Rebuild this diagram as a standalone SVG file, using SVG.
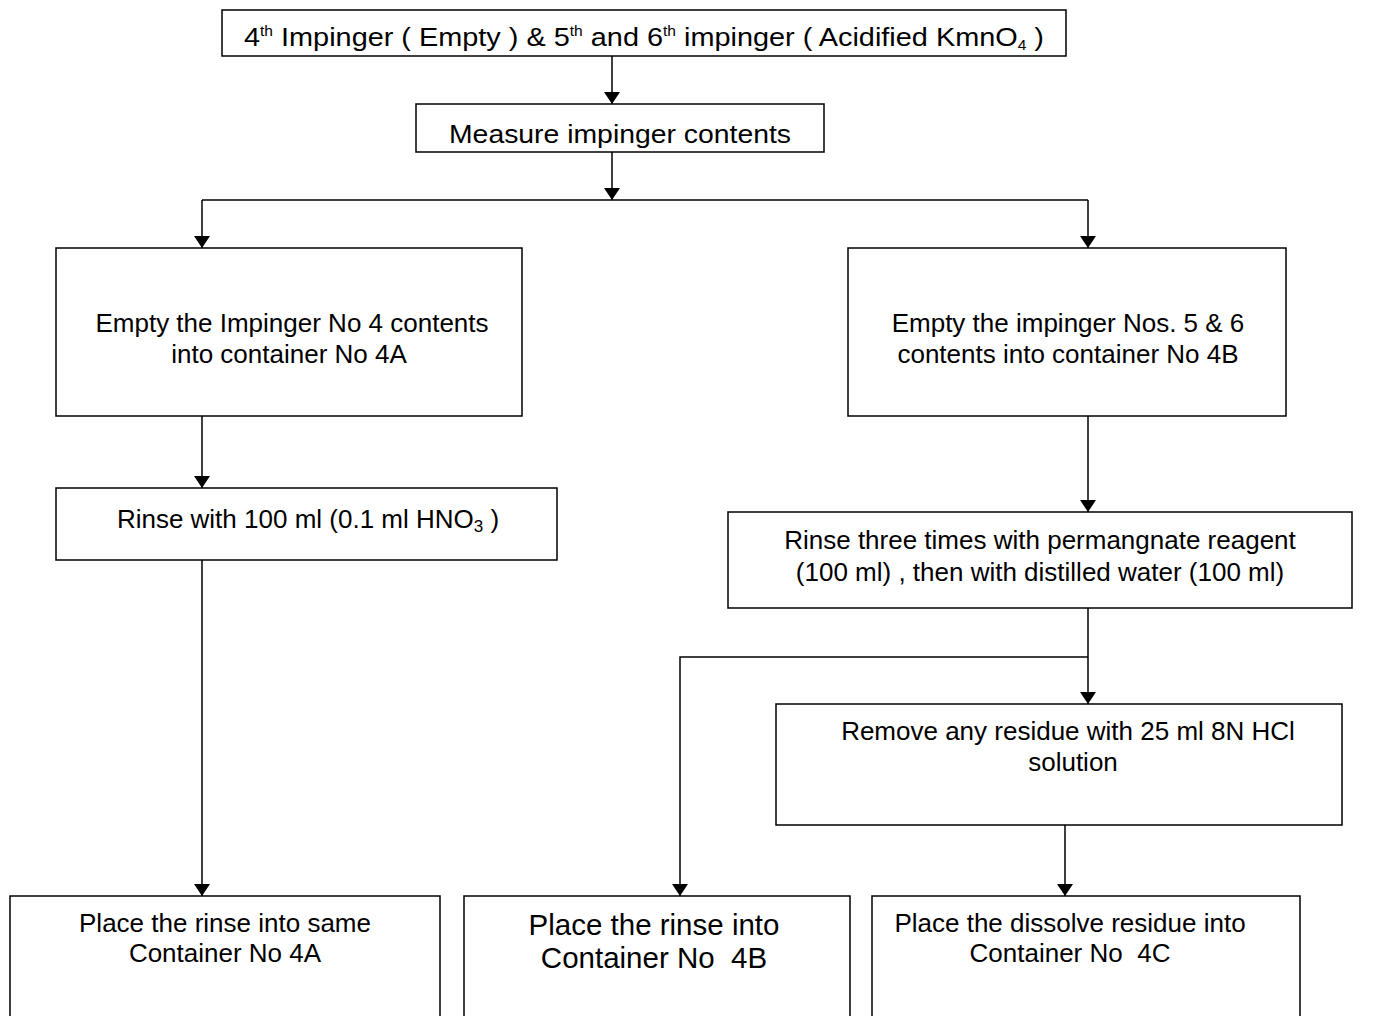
<svg xmlns="http://www.w3.org/2000/svg" width="1376" height="1016" viewBox="0 0 1376 1016">
<style>
rect{fill:#fff;stroke:#000;stroke-width:1.5}
text{font-family:"Liberation Sans",Arial,sans-serif;font-size:26px;fill:#000;text-anchor:middle}
.c line,.c polyline{stroke:#000;stroke-width:1.5;fill:none}
.big{font-size:29.5px}
.sup{font-size:14px}
</style>
<defs>
<marker id="ah" viewBox="0 0 12 16" refX="12" refY="8" markerWidth="12" markerHeight="16" markerUnits="userSpaceOnUse" orient="auto"><path d="M0,0 L12,8 L0,16 Z" fill="#000"/></marker>
</defs>
<g class="c">
<line x1="612" y1="56" x2="612" y2="104" marker-end="url(#ah)"/>
<line x1="612" y1="152" x2="612" y2="200" marker-end="url(#ah)"/>
<polyline points="202,200 1088,200"/>
<line x1="202" y1="200" x2="202" y2="248" marker-end="url(#ah)"/>
<line x1="1088" y1="200" x2="1088" y2="248" marker-end="url(#ah)"/>
<line x1="202" y1="416" x2="202" y2="488" marker-end="url(#ah)"/>
<line x1="1088" y1="416" x2="1088" y2="512" marker-end="url(#ah)"/>
<line x1="1088" y1="608" x2="1088" y2="704" marker-end="url(#ah)"/>
<polyline points="1088,657 680,657 680,896" marker-end="url(#ah)"/>
<line x1="202" y1="560" x2="202" y2="896" marker-end="url(#ah)"/>
<line x1="1065" y1="825" x2="1065" y2="896" marker-end="url(#ah)"/>
</g>
<g id="n1"><rect x="222" y="10" width="844" height="46"/>
<text x="644" y="46" font-size="24" textLength="800" lengthAdjust="spacingAndGlyphs">4<tspan class="sup" dy="-10">th</tspan><tspan dy="10"> Impinger ( Empty ) &amp; 5</tspan><tspan class="sup" dy="-10">th</tspan><tspan dy="10"> and 6</tspan><tspan class="sup" dy="-10">th</tspan><tspan dy="10"> impinger ( Acidified KmnO</tspan><tspan class="sup" dy="4" font-size="16">4</tspan><tspan dy="-4"> )</tspan></text></g>
<g id="n2"><rect x="416" y="104" width="408" height="48"/><text x="620" y="143" font-size="30" textLength="342" lengthAdjust="spacingAndGlyphs">Measure impinger contents</text></g>
<g id="n3"><rect x="56" y="248" width="466" height="168"/><text x="292" y="332">Empty the Impinger No 4 contents</text><text x="289" y="363">into container No 4A</text></g>
<g id="n4"><rect x="848" y="248" width="438" height="168"/><text x="1068" y="332">Empty the impinger Nos. 5 &amp; 6</text><text x="1068" y="363">contents into container No 4B</text></g>
<g id="n5"><rect x="56" y="488" width="501" height="72"/><text x="308" y="528">Rinse with 100 ml (0.1 ml HNO<tspan dy="4" font-size="17">3</tspan><tspan dy="-4"> )</tspan></text></g>
<g id="n6"><rect x="728" y="512" width="624" height="96"/><text x="1040" y="549" font-size="25">Rinse three times with permangnate reagent</text><text x="1040" y="581" font-size="25">(100 ml) , then with distilled water (100 ml)</text></g>
<g id="n7"><rect x="776" y="704" width="566" height="121"/><text x="1068" y="740">Remove any residue with 25 ml 8N HCl</text><text x="1073" y="771">solution</text></g>
<g id="n8"><rect x="10" y="896" width="430" height="130"/><text x="225" y="932">Place the rinse into same</text><text x="225" y="962">Container No 4A</text></g>
<g id="n9"><rect x="464" y="896" width="386" height="130"/><text x="654" y="935" class="big">Place the rinse into</text><text x="654" y="968" class="big" xml:space="preserve">Container No  4B</text></g>
<g id="n10"><rect x="872" y="896" width="428" height="130"/><text x="1070" y="932">Place the dissolve residue into</text><text x="1070" y="962" xml:space="preserve">Container No  4C</text></g>
</svg>
